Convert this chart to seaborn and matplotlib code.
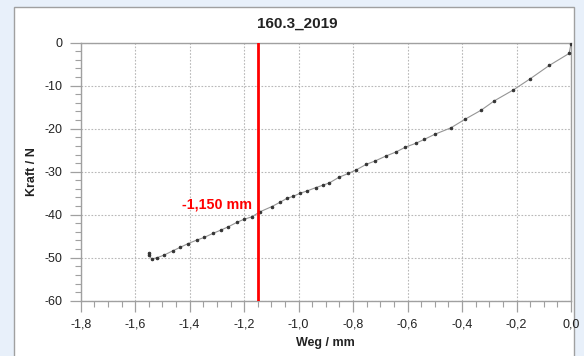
import matplotlib
matplotlib.use("Agg")
import matplotlib.pyplot as plt
from matplotlib.patches import Rectangle
from matplotlib.ticker import MultipleLocator, FuncFormatter
import seaborn as sns
import pandas as pd

# Measurement: displacement (mm) vs. force (N)
weg = [0.0, -0.007, -0.080, -0.150, -0.212, -0.281, -0.330, -0.389, -0.441,
       -0.500, -0.539, -0.570, -0.608, -0.642, -0.681, -0.719, -0.752, -0.789,
       -0.817, -0.852, -0.887, -0.909, -0.937, -0.970, -0.994, -1.019, -1.043,
       -1.068, -1.098, -1.141, -1.172, -1.202, -1.227, -1.258, -1.286, -1.313,
       -1.347, -1.374, -1.405, -1.435, -1.462, -1.494, -1.520, -1.539, -1.551,
       -1.551]
kraft = [-0.2, -2.5, -5.3, -8.4, -11.0, -13.5, -15.7, -17.8, -19.8,
         -21.3, -22.5, -23.4, -24.3, -25.4, -26.4, -27.5, -28.3, -29.6,
         -30.4, -31.3, -32.6, -33.1, -33.7, -34.5, -35.0, -35.7, -36.2,
         -37.1, -38.1, -39.3, -40.5, -41.1, -41.8, -42.8, -43.6, -44.3,
         -45.3, -45.9, -46.7, -47.6, -48.4, -49.4, -50.0, -50.3, -49.4,
         -49.0]
marker_pos = -1.15
marker_label = "-1,150 mm"
title = "160.3_2019"
x_label = "Weg / mm"
y_label = "Kraft / N"

df = pd.DataFrame({"Weg": weg, "Kraft": kraft})

sns.set_style("white")
plt.rcParams["font.family"] = ["Liberation Sans", "DejaVu Sans"]

fig = plt.figure(figsize=(5.84, 3.56), dpi=100)
fig.patch.set_facecolor("#e8f0fa")
# white panel behind the chart
panel = Rectangle((14 / 584, -0.05), (574 - 14) / 584, 1 - 7 / 356 + 0.05,
                  transform=fig.transFigure, facecolor="white",
                  edgecolor="#a0a0a0", linewidth=1.0, zorder=-10)
fig.add_artist(panel)

ax = fig.add_axes([80.7 / 584, 1 - 300.7 / 356, (571 - 80.7) / 584, (300.7 - 42.7) / 356])
ax.set_zorder(1)
ax.set_facecolor("white")

sns.lineplot(data=df, x="Weg", y="Kraft", sort=False, ax=ax, color="#959595",
             linewidth=0.8, marker="o", markersize=1.8, markerfacecolor="#333333",
             markeredgecolor="#333333", estimator=None, zorder=3)

ax.axvline(marker_pos, color="#ff0000", linewidth=2.0, zorder=4)
ax.text(marker_pos - 0.02, -37.6, marker_label, color="#ff0000", fontsize=10.3,
        fontweight="bold", ha="right", va="center", zorder=5)

ax.set_xlim(-1.8, 0.0)
ax.set_ylim(-60, 0)
ax.xaxis.set_major_locator(MultipleLocator(0.2))
ax.xaxis.set_minor_locator(MultipleLocator(0.05))
ax.yaxis.set_major_locator(MultipleLocator(10))
ax.yaxis.set_minor_locator(MultipleLocator(2))
ax.xaxis.set_major_formatter(FuncFormatter(lambda v, p: f"{v:.1f}".replace(".", ",").replace("-0,0", "0,0")))
ax.yaxis.set_major_formatter(FuncFormatter(lambda v, p: f"{int(round(v))}"))

ax.grid(True, which="major", color="#b8b8b8", linestyle=(0, (1.5, 1.5)), linewidth=0.8)
for s in ax.spines.values():
    s.set_color("#a0a0a0")
    s.set_linewidth(1.0)
ax.tick_params(which="major", direction="out", length=8, width=0.9, color="#a0a0a0",
               labelsize=9, labelcolor="#222222", pad=4.5)
ax.tick_params(axis="y", which="major", pad=5)
ax.tick_params(which="minor", direction="out", length=4, width=0.8, color="#a0a0a0")
ax.tick_params(axis="x", which="both", bottom=True)
ax.tick_params(axis="y", which="both", left=True)

ax.set_xlabel(x_label, fontsize=9, fontweight="bold", color="#222222", labelpad=5)
ax.set_ylabel(y_label, fontsize=9, fontweight="bold", color="#222222", labelpad=5)
fig.text(297 / 584, 1 - 24 / 356, title, fontsize=11, fontweight="bold",
         color="#222222", ha="center", va="center")

fig.savefig("out.png", dpi=100, facecolor=fig.get_facecolor())
